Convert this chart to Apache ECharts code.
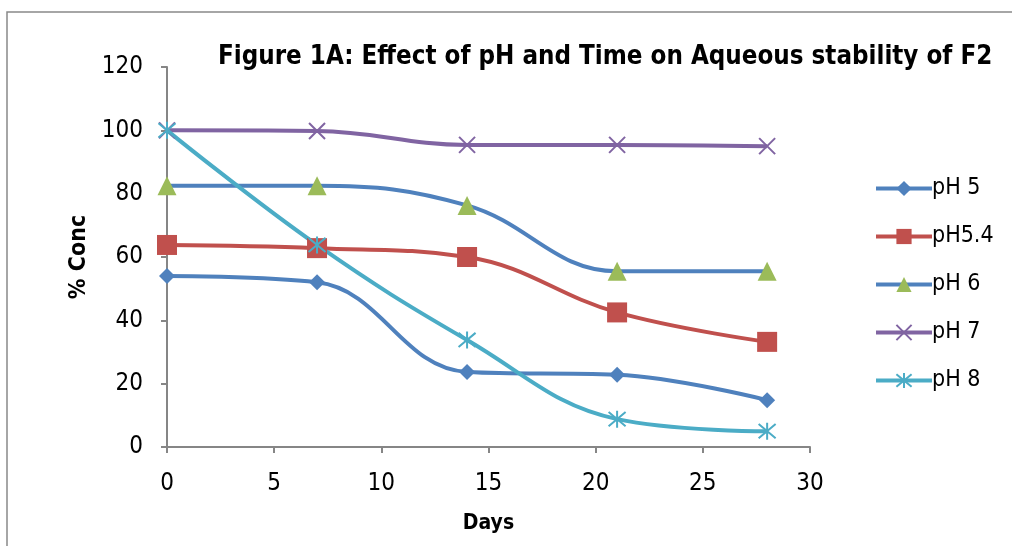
<!DOCTYPE html>
<html lang="en">
<head>
    <meta charset="UTF-8">
    <title>Figure 1A</title>
    <script src="https://cdn.jsdelivr.net/npm/echarts@6/dist/echarts.min.js"></script>
    <style>
        html, body { margin: 0; padding: 0; background: #fff; }
    </style>
</head>
<body>
<div id="main" style="width: 1012px;height:546px;"></div>
<script type="text/javascript">
    // days sampled
    var days = [0, 7, 14, 21, 28];
    // % conc for each pH
    var ph5 = [54, 52, 23.7, 22.8, 14.8];
    var ph54 = [63.8, 62.8, 60, 42.5, 33.2];
    var ph6 = [82.5, 82.5, 76.3, 55.5, 55.5];
    var ph7 = [100, 99.8, 95.4, 95.4, 95];
    var ph8 = [100, 63.8, 33.8, 8.8, 5];
    var seriesNames = ['pH 5', 'pH5.4', 'pH 6', 'pH 7', 'pH 8'];

    var font = "'Liberation Sans Narrow', 'DejaVu Sans Condensed', 'Open Sans', sans-serif";
    var xMark = 'path://M0,0L10,10M10,0L0,10';
    var starMark = 'path://M0,0L10,10M10,0L0,10M5,-1L5,11';

    function pairs(vals) {
        var out = [];
        for (var i = 0; i < days.length; i++) out.push([days[i], vals[i]]);
        return out;
    }

    function mkSeries(name, vals, lineColor, markColor, symbol, size, stroke) {
        return {
            name: name,
            type: 'line',
            smooth: 0.4,
            data: pairs(vals),
            symbol: symbol,
            symbolSize: size,
            showAllSymbol: true,
            lineStyle: { color: lineColor, width: 4 },
            itemStyle: stroke ? { color: 'none', borderColor: markColor, borderWidth: 2 } : { color: markColor, borderWidth: 0 },
            emphasis: { disabled: true }
        };
    }

    var myChart = echarts.init(document.getElementById('main'));
    myChart.setOption({
        animation: false,
        backgroundColor: '#fff',
        textStyle: { fontFamily: font, color: '#000' },
        graphic: [{
            type: 'rect',
            shape: { x: 7, y: 12, width: 1020, height: 560 },
            style: { fill: 'none', stroke: '#898989', lineWidth: 1.5 },
            silent: true
        }],
        title: {
            text: 'Figure 1A: Effect of pH and Time on Aqueous stability of F2',
            left: 213,
            top: 39,
            textStyle: { fontFamily: font, fontWeight: 'bold', fontSize: 25.7, color: '#000' }
        },
        grid: { left: 167, right: 202, top: 67, bottom: 99 },
        legend: {
            data: seriesNames,
            orient: 'vertical',
            left: 869,
            top: 172,
            itemWidth: 56,
            itemHeight: 19,
            itemGap: 25,
            lineStyle: { width: 4 },
            textStyle: { fontFamily: font, fontSize: 23, color: '#000', padding: [0, 0, 0, -5] }
        },
        xAxis: {
            type: 'value',
            min: 0, max: 30, interval: 5,
            name: 'Days',
            nameLocation: 'middle',
            nameGap: 66,
            nameTextStyle: { fontFamily: font, fontWeight: 'bold', fontSize: 21, color: '#000' },
            axisLine: { lineStyle: { color: '#868686', width: 2 } },
            axisTick: { show: true, length: 6, lineStyle: { color: '#868686', width: 2 } },
            axisLabel: { fontSize: 24, color: '#000', margin: 25 },
            splitLine: { show: false }
        },
        yAxis: {
            type: 'value',
            min: 0, max: 120, interval: 20,
            name: '% Conc',
            nameLocation: 'middle',
            nameGap: 76,
            nameTextStyle: { fontFamily: font, fontWeight: 'bold', fontSize: 23, color: '#000' },
            axisLine: { show: true, lineStyle: { color: '#868686', width: 2 } },
            axisTick: { show: true, length: 6, lineStyle: { color: '#868686', width: 2 } },
            axisLabel: { fontSize: 24, color: '#000', margin: 24 },
            splitLine: { show: false }
        },
        series: [
            mkSeries('pH 5', ph5, '#4F81BD', '#4F81BD', 'diamond', 16, false),
            mkSeries('pH5.4', ph54, '#C0504D', '#C0504D', 'rect', 20, false),
            mkSeries('pH 6', ph6, '#4F81BD', '#9BBB59', 'triangle', 19, false),
            mkSeries('pH 7', ph7, '#8064A2', '#8064A2', xMark, 16, true),
            mkSeries('pH 8', ph8, '#4BACC6', '#4BACC6', starMark, 17, true)
        ]
    });
</script>
</body>
</html>
